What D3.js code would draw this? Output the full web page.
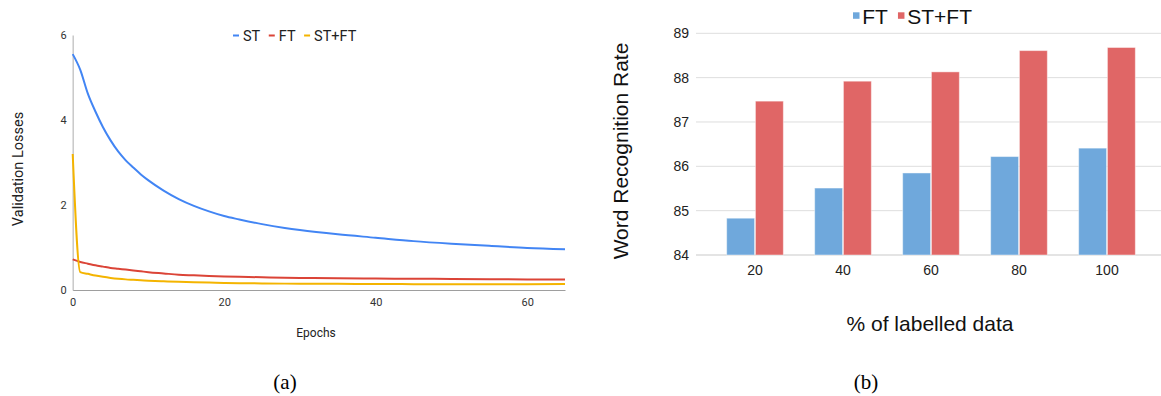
<!DOCTYPE html>
<html>
<head>
<meta charset="utf-8">
<script src="https://cdn.jsdelivr.net/npm/d3@7"></script>
<style>
  html, body { margin: 0; padding: 0; background: #fff; }
  svg { display: block; }
</style>
</head>
<body>
<svg id="chart" width="1161" height="396"></svg>
<script>
// ---------- Data: (a) validation losses ----------
const epochs = [0,1,2,3,4,5,6,7,8,9,10,12,14,16,18,20,22,25,28,30,35,40,45,50,55,60,65];
const lossST   = [5.55,5.18,4.62,4.2,3.83,3.52,3.26,3.05,2.88,2.72,2.58,2.34,2.14,1.98,1.85,1.74,1.66,1.55,1.46,1.41,1.31,1.23,1.15,1.09,1.04,0.99,0.96];
const lossFT   = [0.72,0.66,0.62,0.58,0.55,0.52,0.5,0.48,0.46,0.44,0.42,0.39,0.36,0.345,0.33,0.32,0.31,0.30,0.29,0.285,0.275,0.27,0.265,0.26,0.255,0.25,0.25];
const lossSTFT = [3.2,0.42,0.38,0.34,0.31,0.285,0.265,0.25,0.24,0.23,0.22,0.205,0.192,0.182,0.174,0.167,0.161,0.155,0.15,0.148,0.145,0.14,0.138,0.137,0.137,0.138,0.14];
const lossSeriesNames = ["ST", "FT", "ST+FT"];
const lossYTicks = [0, 2, 4, 6];
const lossXTicks = [0, 20, 40, 60];

// ---------- Data: (b) word recognition rate ----------
const labelledPct = ["20", "40", "60", "80", "100"];
const rateFT   = [84.83, 85.51, 85.85, 86.22, 86.41];
const rateSTFT = [87.47, 87.92, 88.13, 88.61, 88.68];
const rateSeriesNames = ["FT", "ST+FT"];
const rateYTicks = [84, 85, 86, 87, 88, 89];

const svg = d3.select("#chart");

// ================= Chart (a) =================
(function () {
  const colors = ["#4285f4", "#db4437", "#f4b400"];
  const series = [lossST, lossFT, lossSTFT];
  const x = d3.scaleLinear().domain([0, 65]).range([72.7, 565]);
  const y = d3.scaleLinear().domain([0, 6]).range([290, 35]);
  const g = svg.append("g");
  const font = "Roboto, 'Open Sans', sans-serif";

  // y axis
  const ya = g.append("g").attr("transform", `translate(${x(0)},0)`)
    .call(d3.axisLeft(y).tickValues(lossYTicks).tickFormat(d3.format("d")).tickSize(0).tickSizeOuter(0).tickPadding(6));
  ya.select(".domain").attr("stroke", "#c8c8c8").attr("stroke-width", 1.5);
  ya.selectAll("text").attr("font-family", font).attr("font-size", 11).attr("fill", "#333");

  // x axis
  const xa = g.append("g").attr("transform", `translate(0,${y(0)})`)
    .call(d3.axisBottom(x).tickValues(lossXTicks).tickFormat(d3.format("d")).tickSize(0).tickSizeOuter(0).tickPadding(8));
  xa.select(".domain").attr("stroke", "#9e9e9e").attr("stroke-width", 1.2);
  xa.selectAll("text").attr("font-family", font).attr("font-size", 11).attr("fill", "#333");

  // lines
  const line = d3.line().x((d, i) => x(epochs[i])).y(d => y(d)).curve(d3.curveMonotoneX);
  series.forEach((s, k) => {
    g.append("path").datum(s).attr("d", line)
      .attr("fill", "none").attr("stroke", colors[k]).attr("stroke-width", 2)
      .attr("stroke-linejoin", "round");
  });

  // axis titles
  g.append("text").attr("transform", "translate(23,169) rotate(-90)")
    .attr("text-anchor", "middle").attr("font-family", font).attr("font-size", 14.5).attr("fill", "#222")
    .text("Validation Losses");
  g.append("text").attr("x", 316).attr("y", 337)
    .attr("text-anchor", "middle").attr("font-family", font).attr("font-size", 12).attr("fill", "#222")
    .text("Epochs");

  // legend
  let lx = 233;
  const ly = 35.5;
  lossSeriesNames.forEach((name, k) => {
    g.append("rect").attr("x", lx).attr("y", ly - 1).attr("width", 6).attr("height", 2).attr("fill", colors[k]);
    const t = g.append("text").attr("x", lx + 10).attr("y", ly + 5.2)
      .attr("font-family", font).attr("font-size", 14.5).attr("fill", "#222").text(name);
    lx += 10 + t.node().getComputedTextLength() + 8.5;
  });

  g.append("text").attr("x", 285).attr("y", 389).attr("text-anchor", "middle")
    .attr("font-family", "'Liberation Serif', 'Times New Roman', serif").attr("font-size", 21).attr("fill", "#000")
    .text("(a)");
})();

// ================= Chart (b) =================
(function () {
  const colors = ["#6fa8dc", "#e06666"];
  const series = [rateFT, rateSTFT];
  const font = "'Liberation Sans', Arial, sans-serif";
  const x0 = d3.scaleBand().domain(labelledPct).range([696, 1166]).paddingInner(0.356).paddingOuter(0.3485);
  const x1 = d3.scaleBand().domain(rateSeriesNames).range([0, x0.bandwidth()]).paddingInner(0.03);
  const y = d3.scaleLinear().domain([84, 89]).range([255, 33.3]);
  const g = svg.append("g");

  // grid
  g.append("g").selectAll("line").data(rateYTicks).join("line")
    .attr("x1", 696).attr("x2", 1161).attr("y1", d => y(d)).attr("y2", d => y(d))
    .attr("stroke", d => d === 84 ? "#e4e4e4" : "#dedede").attr("stroke-width", d => d === 84 ? 2 : 1);

  // y axis labels
  const ya = g.append("g").attr("transform", "translate(696,0)")
    .call(d3.axisLeft(y).tickValues(rateYTicks).tickFormat(d3.format("d")).tickSize(0).tickPadding(7));
  ya.select(".domain").remove();
  ya.selectAll("text").attr("font-family", font).attr("font-size", 14).attr("fill", "#222");

  // x axis labels
  const xa = g.append("g").attr("transform", `translate(0,${y(84)})`)
    .call(d3.axisBottom(x0).tickSize(0).tickPadding(10));
  xa.select(".domain").remove();
  xa.selectAll("text").attr("font-family", font).attr("font-size", 14).attr("fill", "#222");

  // bars
  labelledPct.forEach((cat, i) => {
    series.forEach((s, k) => {
      g.append("rect")
        .attr("x", x0(cat) + x1(rateSeriesNames[k]))
        .attr("y", y(s[i]))
        .attr("width", x1.bandwidth())
        .attr("height", y(84) - y(s[i]))
        .attr("fill", colors[k])
        .attr("stroke", "#ffffff").attr("stroke-opacity", 0.45).attr("stroke-width", 1);
    });
  });

  // titles
  g.append("text").attr("transform", "translate(628,151) rotate(-90)")
    .attr("text-anchor", "middle").attr("font-family", font).attr("font-size", 21).attr("fill", "#111")
    .text("Word Recognition Rate");
  g.append("text").attr("x", 930).attr("y", 331)
    .attr("text-anchor", "middle").attr("font-family", font).attr("font-size", 21).attr("fill", "#111")
    .text("% of labelled data");

  // legend
  let lx = 853;
  rateSeriesNames.forEach((name, k) => {
    g.append("rect").attr("x", lx).attr("y", 12.3).attr("width", 6.5).attr("height", 6.5).attr("fill", colors[k]);
    const t = g.append("text").attr("x", lx + 9.3).attr("y", 23.5)
      .attr("font-family", font).attr("font-size", 21).attr("fill", "#111").text(name);
    lx += 9.3 + t.node().getComputedTextLength() + 10;
  });

  g.append("text").attr("x", 866).attr("y", 389).attr("text-anchor", "middle")
    .attr("font-family", "'Liberation Serif', 'Times New Roman', serif").attr("font-size", 21).attr("fill", "#000")
    .text("(b)");
})();
</script>
</body>
</html>
